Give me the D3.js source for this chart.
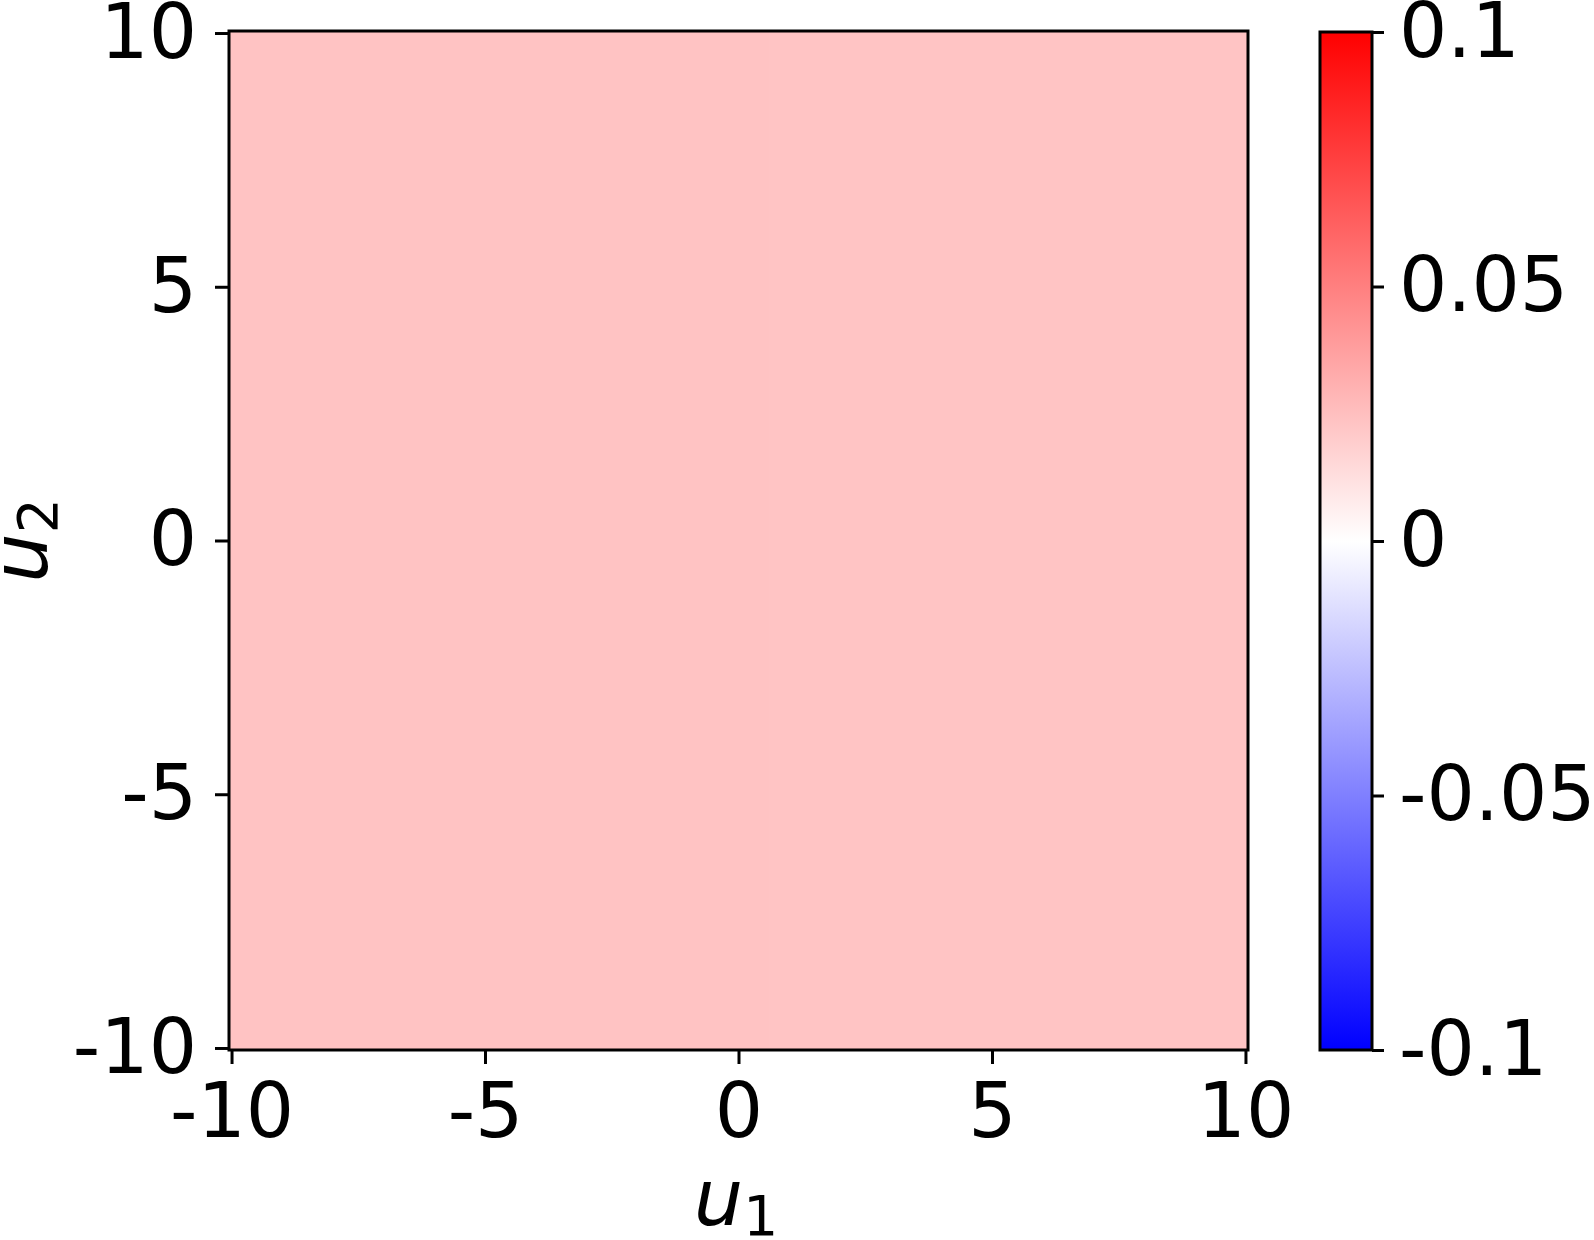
<!DOCTYPE html>
<html>
<head>
<meta charset="utf-8">
<script src="https://cdn.jsdelivr.net/npm/d3@7"></script>
<style>
  body { margin: 0; background: #fff; }
  svg text { font-family: "DejaVu Sans", sans-serif; fill: #000; }
</style>
</head>
<body>
<div id="myGraph"></div>
<script>
// data: nearly constant field on the (u1, u2) square
var u1Edges = [-10.05, 0.6, 10.05];
var u2Edges = [-10.05, 10.05];
var cellValues = [[0.0235, 0.0231]];   // rows = u2 bands, cols = u1 bands
var axisTicks = [-10, -5, 0, 5, 10];
var cbarTicks = [-0.1, -0.05, 0, 0.05, 0.1];
var cbarDomain = [-0.1, 0.1];

var W = 1594, H = 1240;
var plot = {left: 229, right: 1248, top: 31, bottom: 1050};
var cbar = {left: 1320, right: 1372, top: 32, bottom: 1050};
var fontSize = 76;

var xScale = d3.scaleLinear().domain([-10.05, 10.05]).range([plot.left, plot.right]);
var yScale = d3.scaleLinear().domain([-10.04, 10.04]).range([plot.bottom, plot.top]);

// bwr colormap
var color = d3.scaleLinear()
  .domain([cbarDomain[0], 0, cbarDomain[1]])
  .range(["#0000ff", "#ffffff", "#ff0000"]);

var svg = d3.select("#myGraph").append("svg")
  .attr("width", W).attr("height", H);

// heatmap cells
var cells = [];
cellValues.forEach(function(row, j) {
  row.forEach(function(v, i) {
    cells.push({x0: u1Edges[i], x1: u1Edges[i + 1], y0: u2Edges[j], y1: u2Edges[j + 1], v: v});
  });
});
svg.append("g").selectAll("rect")
  .data(cells).enter().append("rect")
  .attr("x", function(d) { return xScale(d.x0); })
  .attr("width", function(d) { return xScale(d.x1) - xScale(d.x0); })
  .attr("y", function(d) { return yScale(d.y1); })
  .attr("height", function(d) { return yScale(d.y0) - yScale(d.y1); })
  .attr("fill", function(d) { return color(d.v); })
  .attr("shape-rendering", "crispEdges");

svg.append("rect")
  .attr("x", plot.left).attr("y", plot.top)
  .attr("width", plot.right - plot.left).attr("height", plot.bottom - plot.top)
  .attr("fill", "none").attr("stroke", "#000").attr("stroke-width", 3);

function styleAxis(g) {
  g.select(".domain").remove();
  g.selectAll(".tick line").attr("stroke", "#000").attr("stroke-width", 3);
  g.selectAll(".tick text").attr("font-size", fontSize).attr("fill", "#000")
    .attr("font-family", "DejaVu Sans");
}

svg.append("g")
  .attr("transform", "translate(0," + plot.bottom + ")")
  .call(d3.axisBottom(xScale).tickValues(axisTicks).tickSize(14).tickPadding(19)
    .tickFormat(function(d) { return String(d); }))
  .call(styleAxis);

svg.append("g")
  .attr("transform", "translate(" + plot.left + ",0)")
  .call(d3.axisLeft(yScale).tickValues(axisTicks).tickSize(14).tickPadding(18)
    .tickFormat(function(d) { return String(d); }))
  .call(styleAxis);

// axis labels
var xl = svg.append("text")
  .attr("x", 736).attr("y", 1225)
  .attr("text-anchor", "middle").attr("font-size", 78);
xl.append("tspan").attr("font-style", "italic").text("u");
xl.append("tspan").attr("font-size", 55).attr("dy", 10).text("1");

var yl = svg.append("text")
  .attr("transform", "translate(47," + ((plot.top + plot.bottom) / 2) + ") rotate(-90)")
  .attr("text-anchor", "middle").attr("font-size", 78);
yl.append("tspan").attr("font-style", "italic").text("u");
yl.append("tspan").attr("font-size", 55).attr("dy", 10).text("2");

// colorbar
var cScale = d3.scaleLinear().domain(cbarDomain).range([cbar.bottom, cbar.top]);
var grad = svg.append("defs").append("linearGradient")
  .attr("id", "cgrad").attr("x1", 0).attr("y1", 1).attr("x2", 0).attr("y2", 0);
[-0.1, 0, 0.1].forEach(function(v) {
  grad.append("stop")
    .attr("offset", (v - cbarDomain[0]) / (cbarDomain[1] - cbarDomain[0]))
    .attr("stop-color", color(v));
});
svg.append("rect")
  .attr("x", cbar.left).attr("y", cbar.top)
  .attr("width", cbar.right - cbar.left).attr("height", cbar.bottom - cbar.top)
  .attr("fill", "url(#cgrad)").attr("stroke", "#000").attr("stroke-width", 3);

svg.append("g")
  .attr("transform", "translate(" + cbar.right + ",0)")
  .call(d3.axisRight(cScale).tickValues(cbarTicks).tickSize(12).tickPadding(15)
    .tickFormat(function(d) { return String(d); }))
  .call(styleAxis);
</script>
</body>
</html>
